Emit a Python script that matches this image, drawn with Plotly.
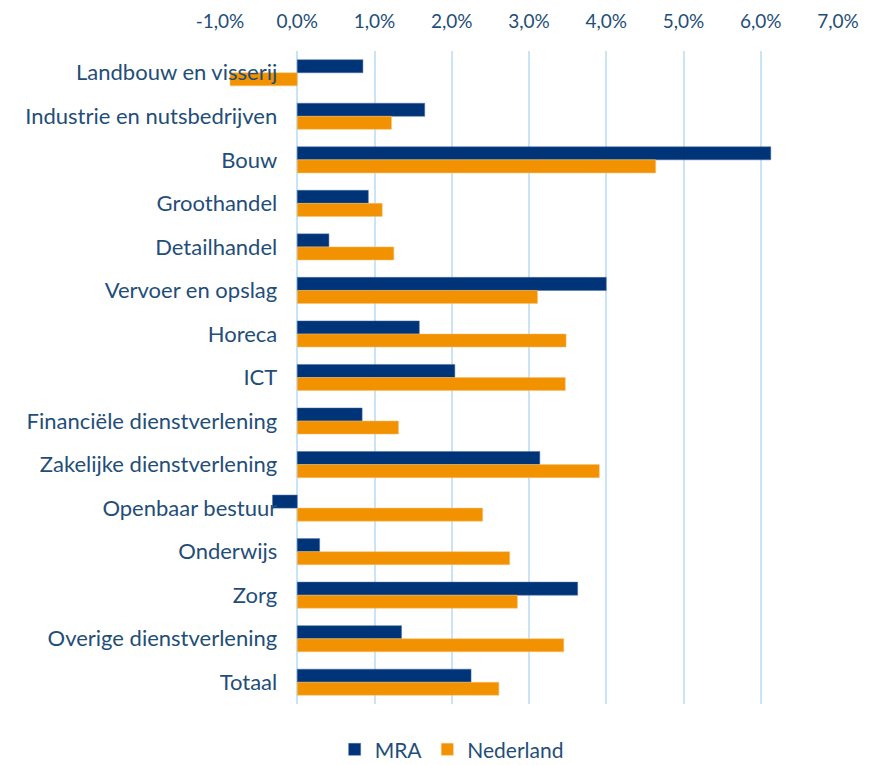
import plotly.graph_objects as go

categories = ["Landbouw en visserij", "Industrie en nutsbedrijven", "Bouw", "Groothandel",
              "Detailhandel", "Vervoer en opslag", "Horeca", "ICT",
              "Financiële dienstverlening", "Zakelijke dienstverlening", "Openbaar bestuur",
              "Onderwijs", "Zorg", "Overige dienstverlening", "Totaal"]
mra = [0.85, 1.65, 6.13, 0.92, 0.41, 4.00, 1.58, 2.04, 0.84, 3.14, -0.32, 0.29, 3.63, 1.35, 2.25]
nederland = [-0.87, 1.22, 4.64, 1.10, 1.25, 3.11, 3.48, 3.47, 1.31, 3.91, 2.40, 2.75, 2.85, 3.45, 2.61]
tick_vals = [-1, 0, 1, 2, 3, 4, 5, 6, 7]
tick_text = ["-1,0%", "0,0%", "1,0%", "2,0%", "3,0%", "4,0%", "5,0%", "6,0%", "7,0%"]

text_color = "#1F4E79"
fig = go.Figure()
fig.add_trace(go.Bar(y=categories, x=mra, name="MRA", orientation="h",
                     marker=dict(color="#003478", line=dict(color="#4a6fa5", width=0.5))))
fig.add_trace(go.Bar(y=categories, x=nederland, name="Nederland", orientation="h",
                     marker=dict(color="#F39200", line=dict(color="#f7c070", width=0.5))))

fig.update_layout(
    width=877, height=765,
    margin=dict(l=220, r=39, t=51, b=61),
    paper_bgcolor="white", plot_bgcolor="white",
    font=dict(family="Lato", size=22, color=text_color),
    barmode="group", bargap=0.4, bargroupgap=0,
    showlegend=True,
    legend=dict(orientation="h", xref="container", yref="container",
                x=0.515, xanchor="center", y=0.02, yanchor="middle",
                font=dict(size=21, color=text_color), itemwidth=30, traceorder="normal"),
    xaxis=dict(range=[-1, 7], side="top", tickvals=tick_vals, ticktext=tick_text,
               tickfont=dict(size=19), automargin=False,
               showgrid=True, gridcolor="#C9E3F7", gridwidth=2, zeroline=False,
               showline=False, ticks="", ticklabelstandoff=18),
    yaxis=dict(autorange="reversed", anchor="free", position=0.125, showgrid=False,
               zeroline=False, showline=False, ticks="", automargin=False,
               ticklabelstandoff=20),
)
fig.write_html("out.html", config={"displayModeBar": False},
               post_script="document.body.style.margin='0px';document.body.style.overflow='hidden';")
